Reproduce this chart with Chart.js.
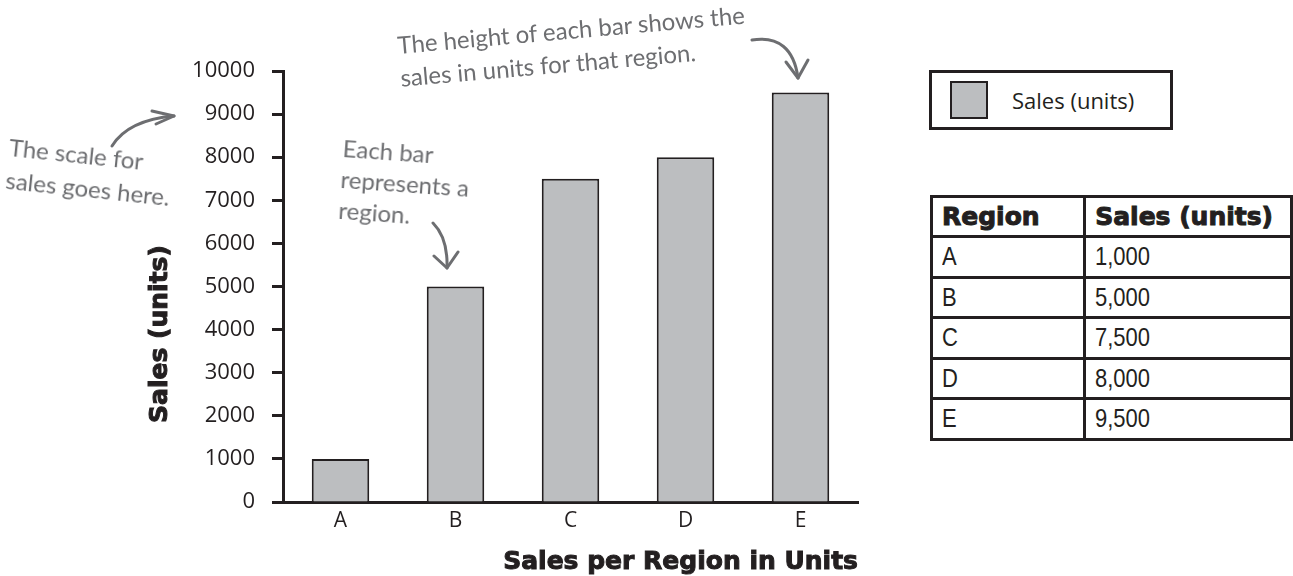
<!DOCTYPE html>
<html lang="en">
<head>
  <meta charset="UTF-8" />
  <title>Sales per Region in Units</title>
  <script src="https://cdn.jsdelivr.net/npm/chart.js"></script>
  <style>
    body {
      margin: 0;
      width: 1293px;
      height: 576px;
      background: #ffffff;
      position: relative;
      overflow: hidden;
      font-family: 'Open Sans', 'Noto Sans', sans-serif;
      color: #231f20;
    }

    .chart-wrap {
      position: absolute;
      left: 0;
      top: 0;
      width: 900px;
      height: 576px;
    }

    .legend-box {
      position: absolute;
      left: 929px;
      top: 70px;
      width: 238px;
      height: 54px;
      border: 3px solid #231f20;
      display: flex;
      align-items: center;
    }

    .legend-box .swatch {
      width: 34px;
      height: 34px;
      margin-left: 18px;
      border: 2px solid #231f20;
    }

    .legend-box span {
      margin-left: 24px;
      font-size: 22px;
    }

    table.data {
      position: absolute;
      left: 930px;
      top: 195px;
      border-collapse: collapse;
    }

    table.data th, table.data td {
      border: 3px solid #231f20;
      padding: 0 0 0 9px;
      text-align: left;
    }

    table.data th {
      font-family: 'DejaVu Sans', sans-serif;
      font-weight: bold;
      font-size: 25px;
      height: 37px;
      -webkit-text-stroke: 1px #231f20;
    }

    table.data td {
      font-family: 'Liberation Sans', Arial, sans-serif;
      font-size: 25px;
      height: 37.5px;
    }

    table.data td span {
      display: inline-block;
      transform: scaleX(0.88);
      transform-origin: left center;
    }

    .note {
      position: absolute;
      color: #6d6e71;
      font-family: 'Lato', 'Noto Sans', sans-serif;
      font-size: 24px;
      line-height: 33px;
      white-space: pre;
      transform-origin: left top;
    }

    svg.arrows {
      position: absolute;
      left: 0;
      top: 0;
      pointer-events: none;
    }
  </style>
</head>
<body>

<div class="chart-wrap">
  <canvas id="salesChart" width="900" height="576"></canvas>
</div>

<!-- Legend -->
<div class="legend-box" id="legend"></div>

<!-- Data table -->
<table class="data" id="salesTable"></table>

<!-- Hand-written notes -->
<div class="note" style="left:11px; top:130px; transform:rotate(6deg);">The scale for
sales goes here.</div>
<div class="note" style="left:344px; top:132px; transform:rotate(4deg); line-height:31px;">Each bar
represents a
region.</div>
<div class="note" style="left:396px; top:28px; transform:rotate(-5deg);">The height of each bar shows the
sales in units for that region.</div>

<svg class="arrows" width="1293" height="576">
  <g fill="none" stroke="#6d6e71" stroke-width="3" stroke-linecap="round">
    <path d="M112,146 Q128,120 174,116" />
    <path d="M174,116 L152,111 M174,116 L156,124" />
    <path d="M433,223 Q448,238 447,268" />
    <path d="M447,268 L434,256 M447,268 L458,252" />
    <path d="M752,40 Q792,34 798,78" />
    <path d="M798,78 L786,62 M798,78 L808,60" />
  </g>
</svg>

<script>
  // chart data
  const regions = ['A', 'B', 'C', 'D', 'E'];
  const salesUnits = [1000, 5000, 7500, 8000, 9500];
  const seriesLabel = 'Sales (units)';
  const xTitle = 'Sales per Region in Units';
  const yTicksMax = 10000;
  const yTicksStep = 1000;

  const barFill = '#bcbec0';
  const ink = '#231f20';
  const titleFont = 'bold 25px "DejaVu Sans"';

  // heavy axis titles (filled + stroked so they look like a black face)
  const axisTitlePlugin = {
    id: 'axisTitles',
    afterDraw(chart) {
      const { ctx, chartArea } = chart;
      ctx.save();
      ctx.font = titleFont;
      ctx.fillStyle = ink;
      ctx.strokeStyle = ink;
      ctx.lineWidth = 1;
      ctx.textBaseline = 'middle';

      // x title, right aligned to the end of the axis
      ctx.textAlign = 'right';
      ctx.fillText(xTitle, chartArea.right, chartArea.bottom + 60);
      ctx.strokeText(xTitle, chartArea.right, chartArea.bottom + 60);

      // y title, sits below the middle of the axis
      ctx.translate(chartArea.left - 123, chartArea.bottom - 168);
      ctx.rotate(-Math.PI / 2);
      ctx.textAlign = 'center';
      ctx.fillText(seriesLabel, 0, 0);
      ctx.strokeText(seriesLabel, 0, 0);
      ctx.restore();
    }
  };

  const ctx = document.getElementById('salesChart').getContext('2d');
  const chart = new Chart(ctx, {
    type: 'bar',
    data: {
      labels: regions,
      datasets: [{
        label: seriesLabel,
        data: salesUnits,
        backgroundColor: barFill,
        borderColor: ink,
        borderWidth: 2,
        barPercentage: 0.5,
        categoryPercentage: 1.0
      }]
    },
    options: {
      responsive: false,
      animation: false,
      layout: {
        padding: { left: 142, top: 71, right: 42, bottom: 0 }
      },
      plugins: {
        legend: { display: false },
        tooltip: { enabled: false }
      },
      scales: {
        x: {
          grid: { display: false, drawTicks: false },
          border: { display: true, color: ink, width: 3 },
          ticks: {
            color: ink,
            padding: 6,
            font: { family: 'Open Sans', size: 21 }
          },
          afterFit: s => { s.height = 74; }
        },
        y: {
          min: 0,
          max: yTicksMax,
          grid: {
            drawOnChartArea: false,
            drawTicks: true,
            tickLength: 11,
            tickWidth: 3,
            color: ink
          },
          border: { display: true, color: ink, width: 3 },
          ticks: {
            stepSize: yTicksStep,
            color: ink,
            padding: 17,
            font: { family: 'Open Sans', size: 22 },
            callback: v => String(v)
          },
          afterFit: s => { s.width = 141; }
        }
      }
    },
    plugins: [axisTitlePlugin]
  });

  // legend from dataset
  const legend = document.getElementById('legend');
  chart.data.datasets.forEach(ds => {
    legend.innerHTML += `<div class="swatch" style="background:${ds.backgroundColor}"></div><span>${ds.label}</span>`;
  });

  // table from the same arrays
  const table = document.getElementById('salesTable');
  let rows = `<tr><th style="width:143px">Region</th><th style="width:199px">${seriesLabel}</th></tr>`;
  regions.forEach((r, i) => {
    rows += `<tr><td><span>${r}</span></td><td><span>${salesUnits[i].toLocaleString('en-US')}</span></td></tr>`;
  });
  table.innerHTML = rows;
</script>

</body>
</html>
